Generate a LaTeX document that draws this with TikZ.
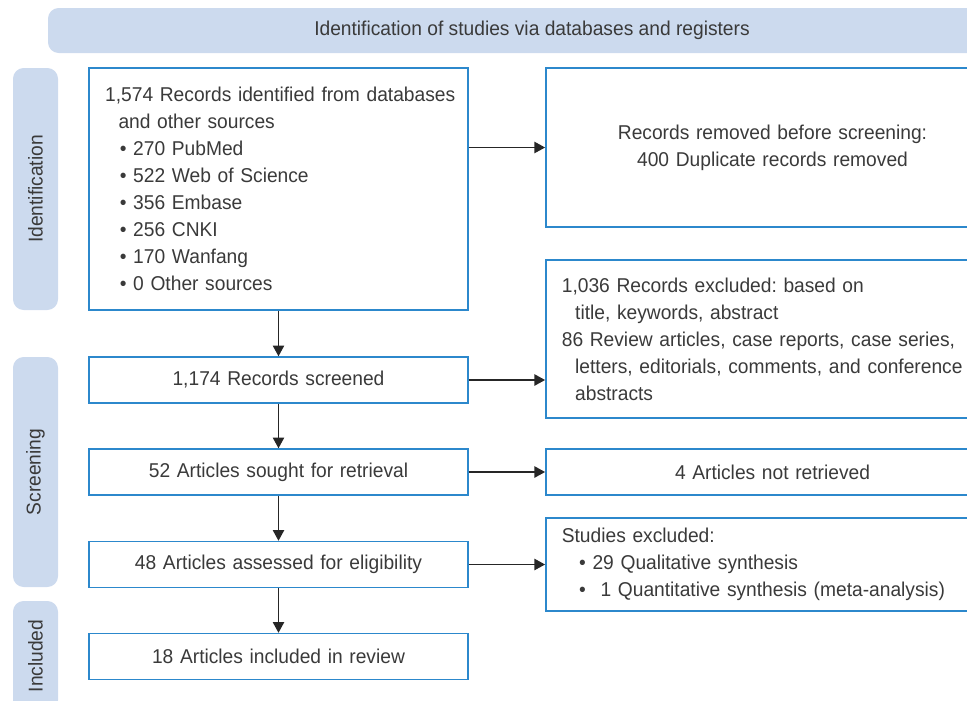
\documentclass[tikz,border=0pt]{standalone}
\usepackage{fontspec}
\setmainfont[FakeStretch=0.96]{Liberation Sans}
\usetikzlibrary{arrows.meta}
\definecolor{bandblue}{RGB}{204,218,238}
\definecolor{boxblue}{RGB}{44,136,204}
\definecolor{txtgray}{RGB}{58,58,58}
\newcommand{\bul}{\hspace*{11pt}\textbullet\ }
\frenchspacing
\begin{document}
\begin{tikzpicture}[x=0.75pt,y=-0.75pt,
  font=\fontsize{15}{20.25}\selectfont, text=txtgray,
  box/.style={draw=boxblue, line width=1.1pt, inner xsep=12pt, inner ysep=0pt},
  band/.style={fill=bandblue, rounded corners=8pt, inner sep=0pt},
  arr/.style={draw=black!85, line width=0.9pt, -{Triangle[length=8pt,width=8.5pt]}}]
\useasboundingbox (0,0) rectangle (967,700);

\node[band, minimum width=726pt, minimum height=33.75pt] (title) at (532,30.5) {Identification of studies via databases and registers};

\node[band, minimum width=181.5pt, minimum height=33.75pt, rotate=90] (idband) at (35.5,189) {Identification};
\node[band, minimum width=172.5pt, minimum height=33.75pt, rotate=90] (scband) at (35.5,472) {Screening};
\node[band, minimum width=82.5pt, minimum height=33.75pt, rotate=90] (inband) at (35.5,656) {Included};

\node[box, text width=260pt, align=left, minimum height=181.5pt] (ident) at (278.5,189) {\mbox{1,574 Records identified from databases}\\
\hspace*{10pt}and other sources\\
\bul 270 PubMed\\
\bul 522 Web of Science\\
\bul 356 Embase\\
\bul 256 CNKI\\
\bul 170 Wanfang\\
\bul 0 Other sources};
\node[box, text width=260pt, align=center, minimum height=34.5pt] (screened) at (278.5,380) {1,174 Records screened};
\node[box, text width=260pt, align=center, minimum height=34.5pt] (sought) at (278.5,472) {52 Articles sought for retrieval};
\node[box, text width=260pt, align=center, minimum height=34.5pt] (assessed) at (278.5,564.5) {48 Articles assessed for eligibility};
\node[box, text width=260pt, align=center, minimum height=34.5pt] (included) at (278.5,656.5) {18 Articles included in review};

\node[box, text width=316pt, align=center, minimum height=119.25pt] (removed) at (772.5,147.5) {Records removed before screening:\\400 Duplicate records removed};
\node[box, text width=316pt, align=left, minimum height=118.5pt] (excluded) at (772.5,339) {1,036 Records excluded: based on\\
\hspace*{10pt}title, keywords, abstract\\
86 Review articles, case reports, case series,\\
\hspace*{10pt}letters, editorials, comments, and conference\\
\hspace*{10pt}abstracts};
\node[box, text width=316pt, align=center, minimum height=34.5pt] (notretr) at (772.5,472) {4 Articles not retrieved};
\node[box, text width=316pt, align=left, minimum height=69.75pt] (studies) at (772.5,564.5) {Studies excluded:\\
\hspace*{13pt}\textbullet\ 29 Qualitative synthesis\\
\hspace*{13pt}\textbullet\hspace*{11pt}1 Quantitative synthesis (meta-analysis)};

\path[arr] (ident) -- (screened);
\path[arr] (screened) -- (sought);
\path[arr] (sought) -- (assessed);
\path[arr] (assessed) -- (included);

\path[arr] (removed.west -| ident.east) -- (removed.west);
\path[arr] (screened.east) -- (screened.east -| excluded.west);
\path[arr] (sought.east) -- (notretr.west);
\path[arr] (assessed.east) -- (assessed.east -| studies.west);
\end{tikzpicture}
\end{document}
